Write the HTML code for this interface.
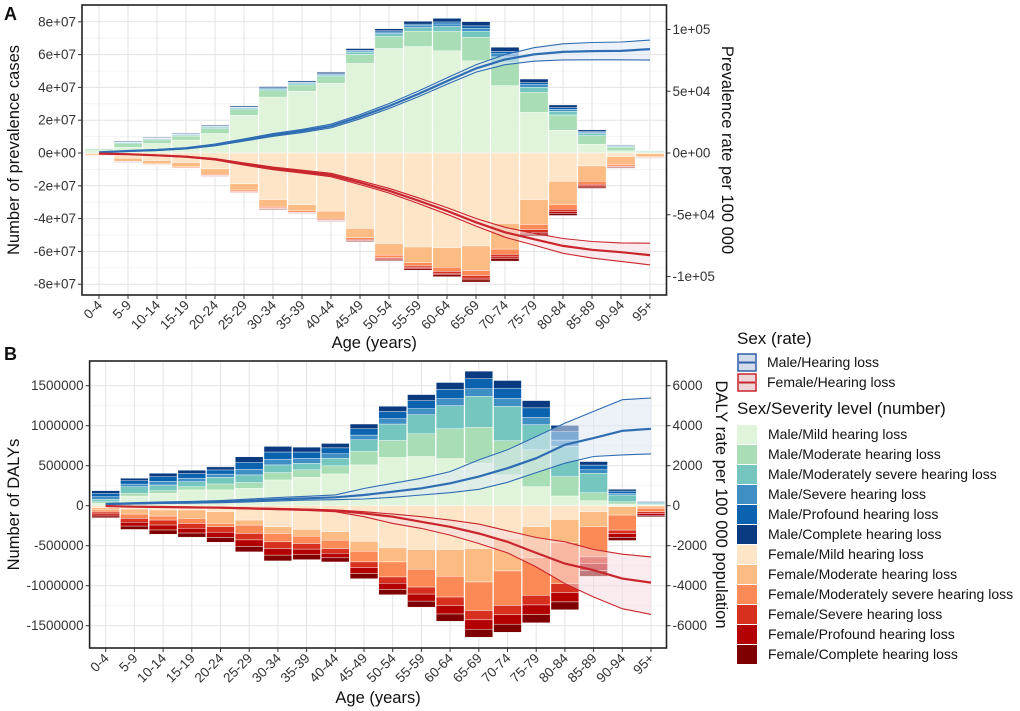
<!DOCTYPE html>
<html><head><meta charset="utf-8"><style>
body{margin:0;background:#fff;}
svg{display:block;font-family:"Liberation Sans",Arial,sans-serif;}
</style></head><body>
<svg id="chart" width="1020" height="711" viewBox="0 0 1020 711" xmlns="http://www.w3.org/2000/svg"></svg>
<script>
const ages=["0-4","5-9","10-14","15-19","20-24","25-29","30-34","35-39","40-44","45-49","50-54","55-59","60-64","65-69","70-74","75-79","80-84","85-89","90-94","95+"];
// Panel A prevalence counts (millions)
const aMaleMild=[1.5,3.4,5.8,7.9,11.9,23,34.1,37.7,42.5,54.6,63.7,64.9,62.3,56.2,41.1,24.8,13.9,5.4,1.4,0.3];
const aMaleMod=[0.9,2.3,2.2,2.4,3,3.4,3.8,3.8,4,5.5,7.3,9.3,11.8,14.4,14,12.2,9.3,5.2,2.2,0.7];
const aMaleMs=[0.2,0.6,0.6,0.6,0.8,0.8,1,0.9,1,1.4,1.8,2.3,3,3.6,3.5,3.1,2.3,1.3,0.5,0.2];
const aMaleSev=[0.1,0.3,0.3,0.3,0.4,0.4,0.5,0.5,0.5,0.7,1,1.2,1.6,1.9,1.9,1.6,1.2,0.7,0.3,0.1];
const aMalePro=[0.1,0.2,0.2,0.2,0.3,0.3,0.4,0.4,0.4,0.5,0.7,0.9,1.2,1.4,1.4,1.2,0.9,0.5,0.2,0.05];
const aMaleComp=[0.2,0.5,0.4,0.5,0.5,0.7,0.7,0.7,0.8,1,1.3,1.7,2.2,2.6,2.6,2.2,1.7,1,0.4,0.1];
const aFemMild=[0.6,3.2,4.6,5.8,9.7,18.8,28.4,31.5,35.5,46,55.2,57.3,57.7,56.7,43,28.4,17.3,7.9,2.2,0.5];
const aFemMod=[0.7,1.8,2,2.7,3.3,3.8,4.1,3.8,4.2,5.6,7.1,9.6,12,15,15.6,15.2,14.1,9.3,4.8,1.8];
const aFemMs=[0.1,0.4,0.4,0.5,0.7,0.8,0.9,0.8,0.9,1.1,1.5,2,2.5,3.1,3.2,3.1,2.9,1.9,1,0.4];
const aFemSev=[0.07,0.2,0.2,0.3,0.3,0.4,0.4,0.4,0.4,0.6,0.7,1,1.2,1.5,1.6,1.6,1.5,1,0.5,0.2];
const aFemPro=[0.05,0.1,0.15,0.2,0.24,0.3,0.3,0.3,0.3,0.4,0.5,0.7,0.9,1.1,1.1,1.1,1,0.7,0.4,0.1];
const aFemComp=[0.08,0.2,0.2,0.2,0.3,0.3,0.4,0.3,0.4,0.5,0.6,0.8,1.1,1.3,1.4,1.3,1.3,0.8,0.4,0.2];
// Panel A prevalence rate (per 100 000, in 10 000s)
const aMaleRate=[0.05,0.16,0.24,0.38,0.65,1.05,1.46,1.78,2.18,2.94,3.8,4.77,5.82,6.85,7.57,7.98,8.19,8.25,8.27,8.41];
const aMaleUp=[0.07,0.19,0.28,0.43,0.72,1.14,1.57,1.91,2.33,3.11,4.0,5.0,6.08,7.15,7.97,8.53,8.84,8.95,8.99,9.14];
const aMaleLo=[0.04,0.13,0.2,0.33,0.58,0.96,1.35,1.65,2.03,2.77,3.6,4.54,5.56,6.55,7.15,7.43,7.54,7.55,7.55,7.52];
const aFemRate=[-0.05,-0.1,-0.19,-0.3,-0.51,-0.89,-1.24,-1.51,-1.78,-2.4,-3.05,-3.85,-4.69,-5.61,-6.42,-6.98,-7.52,-7.84,-8.03,-8.27];
const aFemUp=[-0.04,-0.08,-0.16,-0.26,-0.45,-0.8,-1.13,-1.39,-1.64,-2.24,-2.86,-3.62,-4.42,-5.3,-6.02,-6.5,-6.92,-7.17,-7.28,-7.3];
const aFemLo=[-0.06,-0.12,-0.22,-0.34,-0.57,-0.98,-1.35,-1.63,-1.92,-2.56,-3.24,-4.08,-4.96,-5.92,-6.82,-7.46,-8.12,-8.51,-8.78,-9.06];
// Panel B DALYs (thousands)
const bMaleMild=[29,121,155,197,197,218,322,356,397,510,603,615,590,531,385,238,121,63,21,8];
const bMaleMod=[21,34,33,41,75,71,92,92,101,168,213,285,372,448,427,461,243,100,29,9];
const bMaleMs=[30,83,71,63,84,96,96,83,96,146,205,238,289,389,431,314,377,243,84,12];
const bMaleSev=[32,32,44,43,39,68,69,60,55,59,67,75,87,94,97,90,79,44,21,8];
const bMalePro=[43,42,59,57,52,90,92,80,74,79,89,100,116,126,129,120,105,58,28,10];
const bMaleComp=[33,31,44,43,38,68,70,61,55,59,66,76,86,94,96,91,79,44,22,7];
const bFemMild=[25,42,54,54,75,180,264,297,326,444,527,548,548,536,410,264,172,75,13,4];
const bFemMod=[29,63,76,105,147,63,83,84,105,125,176,247,335,418,406,385,292,189,104,29];
const bFemMs=[25,54,50,63,42,104,105,92,105,134,188,222,259,356,431,472,511,376,188,42];
const bFemSev=[25,48,62,60,67,81,83,70,58,73,78,88,106,117,117,120,114,85,46,22];
const bFemPro=[25,48,62,60,67,81,83,70,58,73,78,88,106,117,117,120,114,85,46,22];
const bFemComp=[22,42,52,51,58,68,72,61,51,63,66,75,90,100,101,103,98,73,38,19];
// Panel B DALY rate per 100 000
const bMaleRate=[84,117,150,167,200,250,318,368,418,535,702,870,1120,1455,1873,2375,3043,3378,3746,3846];
const bMaleUp=[110,150,190,215,260,330,410,470,540,860,1120,1371,1706,2291,2793,3462,4130,4716,5301,5385];
const bMaleLo=[55,85,110,125,150,190,240,280,300,334,418,535,652,819,1171,1656,2124,2458,2542,2592];
const bFemRate=[-17,-50,-67,-84,-100,-134,-167,-200,-251,-385,-552,-803,-1054,-1388,-1806,-2358,-2893,-3227,-3645,-3846];
const bFemUp=[-12,-40,-55,-68,-82,-110,-140,-165,-210,-301,-418,-552,-719,-920,-1254,-1589,-1806,-2191,-2425,-2558];
const bFemLo=[-22,-60,-80,-100,-120,-160,-200,-240,-300,-552,-886,-1137,-1472,-1890,-2358,-3060,-3896,-4565,-5151,-5435];
const aLeftTicks=[80,60,40,20,0,-20,-40,-60,-80];
const aLeftLabels=["8e+07","6e+07","4e+07","2e+07","0e+00","-2e+07","-4e+07","-6e+07","-8e+07"];
const aRightTicks=[10,5,0,-5,-10];
const aRightLabels=["1e+05","5e+04","0e+00","-5e+04","-1e+05"];
const bLeftTicks=[1500,1000,500,0,-500,-1000,-1500];
const bLeftLabels=["1500000","1000000","500000","0","-500000","-1000000","-1500000"];
const bRightTicks=[6000,4000,2000,0,-2000,-4000,-6000];
const bRightLabels=["6000","4000","2000","0","-2000","-4000","-6000"];

const maleColors=["#e0f3db","#a8ddb5","#74c6bf","#3f8fc5","#0b62ae","#0a3b80"];
const femColors=["#fee5c8","#fdbb84","#fc8a56","#d7301f","#b30000","#7f0000"];
const sevNames=["mild","moderate","moderately-severe","severe","profound","complete"];
const NS="http://www.w3.org/2000/svg";
const svg=document.getElementById("chart");
function el(tag,attrs,parent){const e=document.createElementNS(NS,tag);for(const k in attrs)e.setAttribute(k,attrs[k]);(parent||svg).appendChild(e);return e;}
function txt(s,attrs,parent){const e=el("text",attrs,parent);e.textContent=s;return e;}

function panel(cfg){
  const g=el("g",{});
  
  
  const {L,R,T,B,x0,step,yL,yR}=cfg;
  const xs=i=>x0+i*step;
  el("rect",{x:L,y:T,width:R-L,height:B-T,fill:"#fff"},g);
  cfg.minor.forEach(v=>{const y=yL(v);el("line",{x1:L,x2:R,y1:y,y2:y,stroke:"#f2f2f2","stroke-width":0.8},g);});
  cfg.leftTicks.forEach(v=>{const y=yL(v);el("line",{x1:L,x2:R,y1:y,y2:y,stroke:"#e3e3e3","stroke-width":1},g);});
  ages.forEach((a,i)=>{el("line",{x1:xs(i),x2:xs(i),y1:T,y2:B,stroke:"#e3e3e3","stroke-width":1},g);});
  const bw=step*0.97;
  const draw=(series,colors,sign,sex)=>{
    ages.forEach((a,i)=>{
      let acc=0;
      series.forEach((s,k)=>{
        const v=s[i];const y1=yL(sign*acc),y2=yL(sign*(acc+v));acc+=v;
        const r=el("rect",{x:xs(i)-bw/2,y:Math.min(y1,y2),width:bw,height:Math.abs(y2-y1),fill:colors[k],stroke:"#fff","stroke-width":0.4},g);
        
        
      });
    });
  };
  draw(cfg.male,maleColors,1,"male");
  draw(cfg.fem,femColors,-1,"female");
  const line=(arr)=>arr.map((v,i)=>(i?"L":"M")+xs(i).toFixed(1)+","+yR(v).toFixed(1)).join("");
  const band=(up,lo)=>line(up)+lo.slice().reverse().map((v,j)=>"L"+xs(lo.length-1-j).toFixed(1)+","+yR(v).toFixed(1)).join("")+"Z";
  [[cfg.mUp,cfg.mLo,cfg.mRate,"#2f6db3","#dfe8f4","male"],[cfg.fUp,cfg.fLo,cfg.fRate,"#c9252c","#f6dde0","female"]].forEach(([up,lo,mid,c,f,sex])=>{
    const b=el("path",{d:band(up,lo),fill:f,"fill-opacity":0.55,stroke:"none"},g);
    
    
    [up,lo].forEach(arr=>{const p=el("path",{d:line(arr),fill:"none",stroke:c,"stroke-width":1.1},g);
      
      });
    const m=el("path",{d:line(mid),fill:"none",stroke:c,"stroke-width":2.2},g);
    
    
  });
  el("rect",{x:L,y:T,width:R-L,height:B-T,fill:"none",stroke:"#222","stroke-width":1.6},g);
  cfg.leftTicks.forEach((v,i)=>{const y=yL(v);el("line",{x1:L-4,x2:L,y1:y,y2:y,stroke:"#333"},g);
    const t=txt(cfg.leftLabels[i],{x:L-6,y:y+4.5,"text-anchor":"end","font-size":13.5,fill:"#333"},g);
    });
  cfg.rightTicks.forEach((v,i)=>{const y=yR(v);el("line",{x1:R,x2:R+4,y1:y,y2:y,stroke:"#333"},g);
    const t=txt(cfg.rightLabels[i],{x:R+6,y:y+4.5,"text-anchor":"start","font-size":13.5,fill:"#333"},g);
    });
  ages.forEach((a,i)=>{const x=xs(i);el("line",{x1:x,x2:x,y1:B,y2:B+4,stroke:"#333"},g);
    const t=txt(a,{x:x+4,y:B+11,"text-anchor":"end","font-size":13.5,fill:"#333",transform:`rotate(-45 ${x+4} ${B+11})`},g);
    });
  const mid=(T+B)/2;
  let t=txt(cfg.yTitle,{x:0,y:0,"text-anchor":"middle","font-size":16.5,fill:"#111",transform:`translate(${cfg.ytX} ${mid}) rotate(-90)`},g);
  
  t=txt(cfg.y2Title,{x:0,y:0,"text-anchor":"middle","font-size":16.5,fill:"#111",transform:`translate(${cfg.y2tX} ${mid}) rotate(90)`},g);
  
  t=txt("Age (years)",{x:(L+R)/2,y:cfg.xtY,"text-anchor":"middle","font-size":16.5,fill:"#111"},g);
  
  t=txt(cfg.letter,{x:4,y:cfg.letterY,"font-size":18,"font-weight":"bold",fill:"#111"},g);
  
}

panel({name:"panel-a-prevalence",L:82,R:666.5,T:5,B:295,x0:99,step:29.0,
  yL:v=>153-v*1.64,yR:v=>153-v*12.35,
  minor:[70,50,30,10,-10,-30,-50,-70],
  male:[aMaleMild,aMaleMod,aMaleMs,aMaleSev,aMalePro,aMaleComp],
  fem:[aFemMild,aFemMod,aFemMs,aFemSev,aFemPro,aFemComp],
  mRate:aMaleRate,mUp:aMaleUp,mLo:aMaleLo,fRate:aFemRate,fUp:aFemUp,fLo:aFemLo,
  leftTicks:aLeftTicks,leftLabels:aLeftLabels,rightTicks:aRightTicks,rightLabels:aRightLabels,
  yTitle:"Number of prevalence cases",y2Title:"Prevalence rate per 100 000",ytX:19,y2tX:722,xtY:348,letter:"A",letterY:20});
panel({name:"panel-b-dalys",L:89.6,R:666.5,T:361,B:648,x0:105.7,step:28.7,
  yL:v=>505.7-v*0.08,yR:v=>505.7-v*0.02,
  minor:[1250,750,250,-250,-750,-1250],
  male:[bMaleMild,bMaleMod,bMaleMs,bMaleSev,bMalePro,bMaleComp],
  fem:[bFemMild,bFemMod,bFemMs,bFemSev,bFemPro,bFemComp],
  mRate:bMaleRate,mUp:bMaleUp,mLo:bMaleLo,fRate:bFemRate,fUp:bFemUp,fLo:bFemLo,
  leftTicks:bLeftTicks,leftLabels:bLeftLabels,rightTicks:bRightTicks,rightLabels:bRightLabels,
  yTitle:"Number of DALYs",y2Title:"DALY rate per 100 000 population",ytX:19,y2tX:716,xtY:703,letter:"B",letterY:360});

const lg=el("g",{});


txt("Sex (rate)",{x:737,y:344,"font-size":17,fill:"#111"},lg);
[["Male/Hearing loss","#2f5fa8","#d3dcea"],["Female/Hearing loss","#c9252c","#eed6d8"]].forEach(([n,c,f],i)=>{
  const y=354+i*20;
  const k=el("rect",{x:738,y:y,width:18,height:17,fill:f,stroke:c,"stroke-width":1.5},lg);
  
  el("line",{x1:739,x2:755,y1:y+8.5,y2:y+8.5,stroke:c,"stroke-width":2},lg);
  const t=txt(n,{x:767,y:y+13,"font-size":14,fill:"#111"},lg);
  
});
txt("Sex/Severity level (number)",{x:737,y:414,"font-size":17,fill:"#111"},lg);
const sevLabels=["Mild","Moderate","Moderately severe","Severe","Profound","Complete"];
const allC=maleColors.concat(femColors);
allC.forEach((c,i)=>{
  const y=425+i*20;
  const sex=i<6?"Male":"Female";
  const k=el("rect",{x:737,y:y,width:20,height:19,fill:c},lg);
  
  const t=txt(sex+"/"+sevLabels[i%6]+" hearing loss",{x:768,y:y+14,"font-size":14,fill:"#111"},lg);
  
});
</script>
</body></html>
